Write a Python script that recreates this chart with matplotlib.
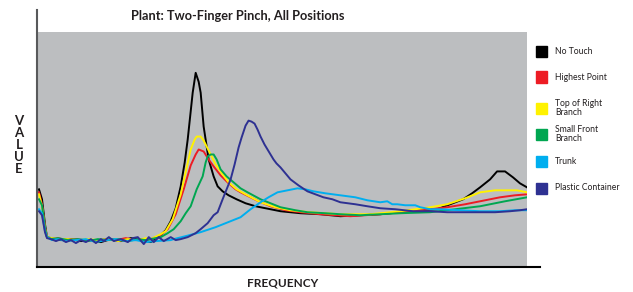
import matplotlib
matplotlib.use("Agg")
import matplotlib.pyplot as plt
from matplotlib.patches import Rectangle
from matplotlib.lines import Line2D

# (frequency, value) pairs, arbitrary units
# value scale: bottom of plot = 0, top = 235

no_touch = [(1, 77), (4, 67), (7, 42), (9, 29), (13, 28), (18, 27), (23, 26), (33, 27), (43, 25), (53, 26),
            (63, 24), (73, 27), (83, 25), (93, 28), (103, 26), (113, 24), (118, 27), (123, 31), (128, 36),
            (133, 45), (138, 58), (143, 80), (147, 104), (150, 127), (155, 174), (158, 194), (161, 185),
            (163, 174), (166, 140), (171, 107), (176, 90), (180, 80), (185, 75), (191, 71), (199, 67), (208, 63),
            (218, 60), (228, 58), (243, 55), (263, 53), (283, 52), (303, 50), (323, 51), (343, 52), (363, 54),
            (383, 56), (400, 57), (413, 62), (426, 67), (435, 73), (443, 79), (453, 87), (460, 95), (468, 95),
            (476, 89), (483, 83), (490, 79)]

highest_point = [(1, 74), (4, 62), (7, 39), (9, 29), (14, 27), (20, 28), (28, 26), (38, 27), (48, 26), (58, 25),
                 (68, 27), (78, 26), (88, 28), (98, 26), (108, 27), (113, 27), (123, 31), (130, 37), (138, 52),
                 (146, 77), (153, 101), (158, 112), (161, 117), (166, 115), (171, 107), (176, 100), (183, 91),
                 (190, 84), (198, 77), (203, 74), (213, 69), (221, 65), (233, 60), (248, 56), (263, 54),
                 (283, 52), (313, 50), (343, 52), (373, 55), (393, 57), (410, 59), (428, 62), (443, 65),
                 (463, 69), (478, 71), (490, 72)]

top_right = [(1, 72), (4, 60), (7, 38), (9, 29), (14, 28), (20, 27), (30, 27), (40, 26), (50, 27), (60, 26),
             (70, 27), (80, 25), (90, 27), (100, 26), (108, 28), (113, 27), (123, 32), (128, 35), (135, 47),
             (143, 72), (149, 99), (153, 117), (157, 127), (159, 130), (163, 130), (166, 126), (169, 120),
             (173, 112), (178, 102), (185, 92), (191, 84), (199, 77), (208, 72), (223, 64), (238, 59), (253, 56),
             (273, 54), (303, 52), (333, 52), (363, 55), (393, 59), (410, 62), (428, 68), (443, 74), (458, 76),
             (470, 76), (480, 76), (490, 74)]

small_front = [(1, 67), (4, 61), (7, 38), (9, 29), (14, 27), (20, 28), (30, 26), (40, 27), (50, 25), (60, 27),
               (70, 26), (80, 27), (90, 25), (100, 27), (108, 26), (113, 27), (123, 29), (130, 33), (136, 37),
               (143, 45), (148, 53), (153, 60), (159, 77), (165, 90), (168, 104), (170, 110), (173, 112),
               (176, 112), (179, 107), (183, 97), (189, 90), (196, 84), (203, 78), (210, 74), (223, 67),
               (233, 63), (243, 59), (258, 56), (270, 54), (288, 53), (303, 52), (323, 51), (343, 52), (363, 53),
               (393, 54), (418, 57), (443, 60), (468, 65), (490, 69)]

trunk = [(1, 57), (4, 53), (7, 35), (9, 29), (14, 26), (20, 27), (28, 25), (38, 26), (48, 27), (58, 24),
         (68, 26), (78, 27), (88, 25), (98, 26), (108, 24), (118, 25), (133, 26), (136, 27), (148, 30), (163, 34),
         (178, 39), (193, 45), (203, 49), (213, 57), (223, 64), (231, 69), (240, 74), (250, 76), (260, 78),
         (268, 77), (276, 75), (288, 73), (303, 71), (318, 69), (330, 66), (343, 64), (350, 65), (355, 62),
         (360, 62), (368, 61), (378, 61), (383, 59), (393, 57), (403, 57), (423, 56), (443, 55), (463, 55),
         (478, 56), (490, 56)]

plastic = [(1, 55), (4, 51), (7, 34), (9, 28), (13, 27), (18, 25), (23, 27), (28, 24), (33, 26), (38, 23),
           (43, 26), (48, 24), (53, 27), (58, 23), (63, 27), (66, 25), (71, 29), (76, 25), (83, 27), (90, 24),
           (95, 28), (100, 29), (106, 22), (111, 29), (116, 24), (121, 29), (126, 25), (133, 29), (138, 26),
           (143, 27), (150, 29), (158, 33), (163, 37), (170, 43), (176, 51), (180, 54), (185, 67), (189, 77),
           (193, 87), (197, 102), (201, 119), (204, 129), (208, 141), (211, 146), (214, 145), (217, 143),
           (220, 137), (223, 130), (227, 122), (230, 117), (233, 112), (236, 107), (239, 103), (243, 99),
           (248, 93), (253, 87), (261, 81), (270, 75), (278, 72), (286, 69), (295, 67), (303, 64), (318, 62),
           (330, 60), (343, 58), (358, 57), (376, 55), (393, 55), (410, 54), (428, 54), (443, 54), (458, 54),
           (473, 55), (483, 56), (490, 57)]

labels = ["No Touch", "Highest Point", "Top of Right\nBranch", "Small Front\nBranch", "Trunk", "Plastic Container"]
colors = ["#000000", "#ed1c24", "#fff200", "#00a651", "#00aeef", "#2e3192"]
series = [no_touch, highest_point, top_right, small_front, trunk, plastic]

plt.rcParams['font.family'] = ['Lato', 'DejaVu Sans']

W, H = 633, 292
fig = plt.figure(figsize=(W / 100, H / 100), dpi=100)
ax = fig.add_axes([38 / W, (H - 266) / H, (527 - 38) / W, (266 - 32) / H])
ax.set_facecolor("#bcbec0")

for pts, c in zip(series, colors):
    f, v = zip(*pts)
    ax.plot(f, v, color=c, lw=1.4, solid_joinstyle="round")

ax.set_xlim(0, 490)
ax.set_ylim(0, 235)
ax.set_xticks([])
ax.set_yticks([])
for s in ax.spines.values():
    s.set_visible(False)

# axis lines
fig.add_artist(Line2D([37 / W, 37 / W], [(H - 267) / H, (H - 10) / H], color="#58595b", lw=1.5,
                      transform=fig.transFigure))
fig.add_artist(Line2D([37 / W, 540 / W], [(H - 267) / H, (H - 267) / H], color="#000000", lw=1.5,
                      transform=fig.transFigure))

fig.text(238 / W, (H - 16) / H, "Plant: Two-Finger Pinch, All Positions", ha="center", va="center",
         fontsize=9.2, fontweight="bold", color="#231f20")
fig.text(283 / W, (H - 283) / H, "FREQUENCY", ha="center", va="center", fontsize=8.5, fontweight="bold",
         color="#231f20")
fig.text(19 / W, (H - 145) / H, "V\nA\nL\nU\nE", ha="center", va="center", fontsize=9.5, fontweight="bold",
         linespacing=1.0, color="#231f20")

# legend
legend_y = [51, 77, 108, 134, 161, 188]
for lab, c, y in zip(labels, colors, legend_y):
    fig.add_artist(Rectangle((536 / W, (H - y - 5.5) / H), 11 / W, 11 / H, color=c, transform=fig.transFigure))
    fig.text(555 / W, (H - y) / H, lab, ha="left", va="center", fontsize=6.2, color="#231f20",
             linespacing=1.05)

fig.savefig("out.png", dpi=100)
